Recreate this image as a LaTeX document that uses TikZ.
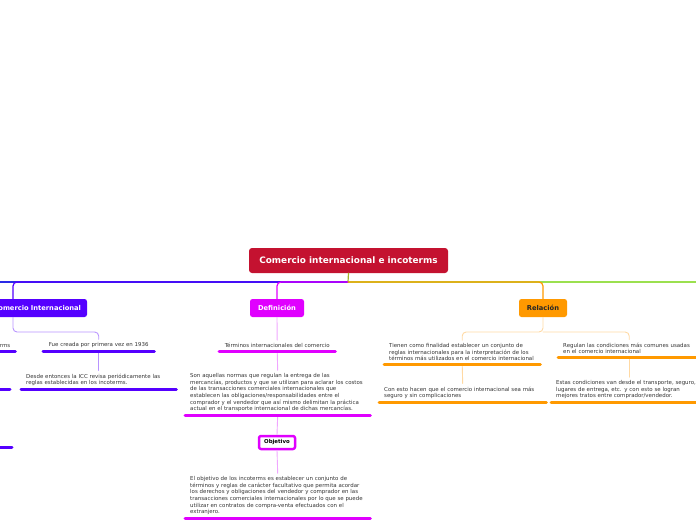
\documentclass[tikz,border=0pt]{standalone}
\usepackage{fontspec}
\setmainfont{DejaVu Sans}
\definecolor{rojoraiz}{HTML}{C41230}
\definecolor{violeta}{HTML}{5500FF}
\definecolor{fucsia}{HTML}{E000FF}
\definecolor{naranja}{HTML}{FF9900}
\definecolor{verde}{HTML}{9BE04F}
\definecolor{azul}{HTML}{2A2AE6}
\definecolor{oliva}{HTML}{A3B32A}
\definecolor{violetaclaro}{HTML}{B894FF}
\definecolor{fucsiaclaro}{HTML}{F0A6FF}
\definecolor{naranjaclaro}{HTML}{FFD9A3}
\newcommand\hojafont{\fontsize{5.45}{6.6}\selectfont}
\begin{document}
\begin{tikzpicture}[x=1pt,y=-1pt,line cap=round,line join=round,
  raiz/.style={fill=rojoraiz,text=white,font=\bfseries\fontsize{8.9}{10}\selectfont,rounded corners=3pt,minimum width=199pt,minimum height=25pt,inner sep=0pt},
  tema/.style={text=white,font=\bfseries\fontsize{6.7}{8}\selectfont,rounded corners=2.5pt,minimum height=18pt,inner sep=0pt},
  hoja/.style={anchor=south west,font=\hojafont,align=left,inner xsep=5pt,inner ysep=3pt,text=black!80},
  rama/.style={line width=1.2pt,rounded corners=4pt},
  sub/.style={line width=0.9pt,rounded corners=4pt},
  subrayado/.style={line width=3pt}]
  \clip (0,0) rectangle (696,520);
  \node[raiz] (root) at (348.5,260.5) {Comercio internacional e incoterms};
  \coordinate (hub) at (348,282);
  \coordinate (izq) at (-30,282);
  \coordinate (der) at (730,282);
  \draw[rama,azul] (hub) -- (izq);
  \draw[rama,verde] (hub) -- (der);
  \draw[rama,oliva] (root.south) -- (hub);
  % comercio internacional
  \begin{scope}
    \node[tema,fill=violeta,minimum width=148pt,text width=136pt,align=right] (cim) at (13,308) {Comercio Internacional};
    \draw[rama,violeta] (hub) -| (cim.north);
    \coordinate (cimhub) at (13,332);
    \node[hoja,text width=45pt,align=right] (incot) at (-40,351) {rms};
    \node[hoja,text width=101pt,align=center] (fue) at (43,351) {Fue creada por primera vez en 1936};
    \node[hoja,text width=145pt] (desde) at (21,389) {Desde entonces la ICC revisa periódicamente las\\reglas establecidas en los incoterms.};
    \coordinate (hoja2) at (10,389);
    \coordinate (hoja3) at (12,447);
    \draw[sub,violetaclaro] (cim.south) -- (cimhub) -| (fue.north);
    \draw[sub,violetaclaro] (fue.south) -- (desde.north);
    \draw[subrayado,violeta] (incot.south west) -- (incot.south east);
    \draw[subrayado,violeta] (fue.south west) -- (fue.south east);
    \draw[subrayado,violeta] (desde.south west) -- (desde.south east);
    \draw[subrayado,violeta] (-40,389) -- (hoja2);
    \draw[subrayado,violeta] (-40,447) -- (hoja3);
  \end{scope}
  % definicion
  \begin{scope}
    \node[tema,fill=fucsia,minimum width=54pt] (defn) at (277,308) {Definición};
    \draw[rama,fucsia] (hub) -| (defn.north);
    \node[hoja,text width=106pt,align=center] (term) at (219,351) {Términos internacionales del comercio};
    \node[hoja,text width=175pt] (son) at (185,415) {Son aquellas normas que regulan la entrega de las\\mercancías, productos y que se utilizan para aclarar los costos\\de las transacciones comerciales internacionales que\\establecen las obligaciones/responsabilidades entre el\\comprador y el vendedor que así mismo delimitan la práctica\\actual en el transporte internacional de dichas mercancías.};
    \node[draw=fucsia,line width=2.5pt,fill=white,rounded corners=2pt,font=\bfseries\fontsize{5.4}{7}\selectfont,minimum width=36pt,minimum height=13pt,inner sep=0pt] (obj) at (277,442.5) {Objetivo};
    \node[hoja,text width=175pt] (elobj) at (185,518) {El objetivo de los incoterms es establecer un conjunto de\\términos y reglas de carácter facultativo que permita acordar\\los derechos y obligaciones del vendedor y comprador en las\\transacciones comerciales internacionales por lo que se puede\\utilizar en contratos de compra-venta efectuados con el\\extranjero.};
    \draw[sub,fucsiaclaro] (defn.south) -- (term.north);
    \draw[sub,fucsiaclaro] (term.south) -- (son.north);
    \draw[sub,fucsiaclaro] (son.south) -- (obj.north);
    \draw[sub,fucsiaclaro] (obj.south) -- (elobj.north);
    \draw[subrayado,fucsia] (term.south west) -- (term.south east);
    \draw[subrayado,fucsia] (son.south west) -- (son.south east);
    \draw[subrayado,fucsia] (elobj.south west) -- (elobj.south east);
  \end{scope}
  % relacion
  \begin{scope}
    \node[tema,fill=naranja,text=black!85,minimum width=48pt] (rel) at (543,308) {Relación};
    \draw[rama,naranja] (hub) -| (rel.north);
    \coordinate (relhub) at (543,332);
    \node[hoja,text width=146pt] (tienen) at (384,364) {Tienen como finalidad establecer un conjunto de\\reglas internacionales para la interpretación de los\\términos más utilizados en el comercio internacional};
    \node[hoja,text width=157pt] (conesto) at (379,402) {Con esto hacen que el comercio internacional sea más\\seguro y sin complicaciones};
    \node[hoja,text width=132pt] (regulan) at (558,357) {Regulan las condiciones más comunes usadas\\en el comercio internacional};
    \node[hoja,text width=146pt] (estas) at (551,402) {Estas condiciones van desde el transporte, seguro,\\lugares de entrega, etc. y con esto se logran\\mejores tratos entre comprador/vendedor.};
    \draw[sub,naranjaclaro] (rel.south) -- (relhub) -| (tienen.north);
    \draw[sub,naranjaclaro] (relhub) -| (regulan.north);
    \draw[sub,naranjaclaro] (tienen.south) -- (conesto.north);
    \draw[sub,naranjaclaro] (regulan.south) -- (estas.north);
    \draw[subrayado,naranja] (tienen.south west) -- (tienen.south east);
    \draw[subrayado,naranja] (conesto.south west) -- (conesto.south east);
    \draw[subrayado,naranja] (regulan.south west) -- (regulan.south east);
    \draw[subrayado,naranja] (estas.south west) -- (estas.south east);
  \end{scope}
\end{tikzpicture}
\end{document}
